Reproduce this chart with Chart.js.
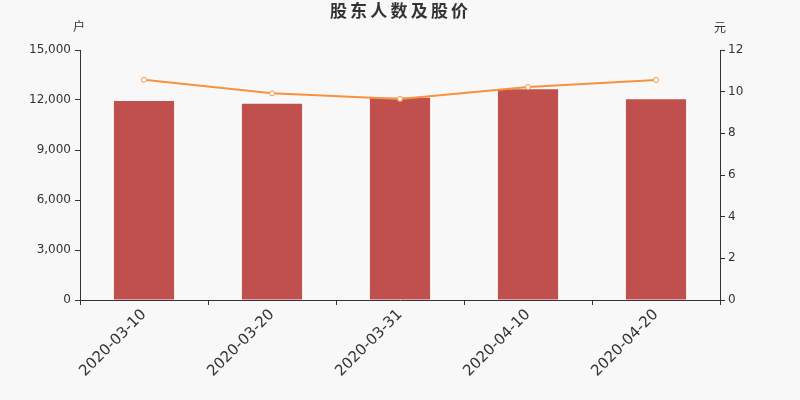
<!DOCTYPE html>
<html>
<head>
<meta charset="utf-8">
<script src="https://cdn.jsdelivr.net/npm/chart.js@4"></script>
<style>
  html, body { margin: 0; padding: 0; background: #f8f8f8; }
  #wrap { width: 800px; height: 400px; }
</style>
</head>
<body>
<div id="wrap"><canvas id="chart"></canvas></div>
<script>
const titleText = '股东人数及股价';
const dates = ['2020-03-10', '2020-03-20', '2020-03-31', '2020-04-10', '2020-04-20'];
const holders = [11940, 11780, 12140, 12640, 12040];
const prices = [10.57, 9.92, 9.65, 10.22, 10.56];

const FONT = "'DejaVu Sans', 'Noto Sans CJK SC', sans-serif";
const INK = '#333333';

// spaced-out title plus the unit labels above the two y axes
const headerText = {
    id: 'headerText',
    afterDraw(chart) {
        const c = chart.ctx;
        const top = chart.chartArea.top;
        c.save();
        c.fillStyle = INK;
        c.textAlign = 'center';
        c.textBaseline = 'middle';

        c.font = 'bold 17px ' + FONT;
        const chars = Array.from(titleText);
        const pitch = 20.2;
        const mid = (chart.chartArea.left + chart.chartArea.right) / 2 - 1;
        chars.forEach((ch, i) => {
            c.fillText(ch, mid + (i - (chars.length - 1) / 2) * pitch, 13);
        });

        c.font = '12px ' + FONT;
        c.fillText('户', chart.scales.y.right - 1, top - 22);
        c.fillText('元', chart.scales.y1.left, top - 21);
        c.restore();
    }
};

new Chart(document.getElementById('chart'), {
    type: 'bar',
    data: {
        labels: dates,
        datasets: [{
            type: 'line',
            label: '股价',
            data: prices,
            yAxisID: 'y1',
            borderColor: '#f7923f',
            borderWidth: 2,
            pointRadius: 2.5,
            pointBorderWidth: 1,
            pointBackgroundColor: '#ffffff',
            pointBorderColor: '#f7923f',
            tension: 0,
            order: 0
        }, {
            label: '股东人数',
            data: holders,
            yAxisID: 'y',
            backgroundColor: '#c0504d',
            barPercentage: 0.47,
            categoryPercentage: 1,
            order: 1
        }]
    },
    options: {
        responsive: true,
        maintainAspectRatio: false,
        animation: false,
        layout: { padding: { top: 50 } },
        plugins: {
            legend: { display: false },
            tooltip: { enabled: false },
            title: { display: false }
        },
        scales: {
            x: {
                offset: true,
                grid: {
                    offset: true,
                    drawOnChartArea: false,
                    color: INK,
                    tickLength: 5
                },
                border: { color: INK },
                ticks: {
                    color: INK,
                    font: { family: FONT, size: 15 },
                    minRotation: 45,
                    maxRotation: 45,
                    padding: 1
                },
                afterFit(scale) { scale.height = 100; }
            },
            y: {
                position: 'left',
                min: 0,
                max: 15000,
                ticks: {
                    stepSize: 3000,
                    color: INK,
                    font: { family: FONT, size: 12 },
                    padding: 4
                },
                grid: {
                    drawOnChartArea: false,
                    color: INK,
                    tickLength: 5
                },
                border: { color: INK },
                afterFit(scale) { scale.width = 80; }
            },
            y1: {
                position: 'right',
                min: 0,
                max: 12,
                ticks: {
                    stepSize: 2,
                    color: INK,
                    font: { family: FONT, size: 12 },
                    padding: 3
                },
                grid: {
                    drawOnChartArea: false,
                    color: INK,
                    tickLength: 5
                },
                border: { color: INK },
                afterFit(scale) { scale.width = 80; }
            }
        }
    },
    plugins: [headerText]
});
</script>
</body>
</html>
